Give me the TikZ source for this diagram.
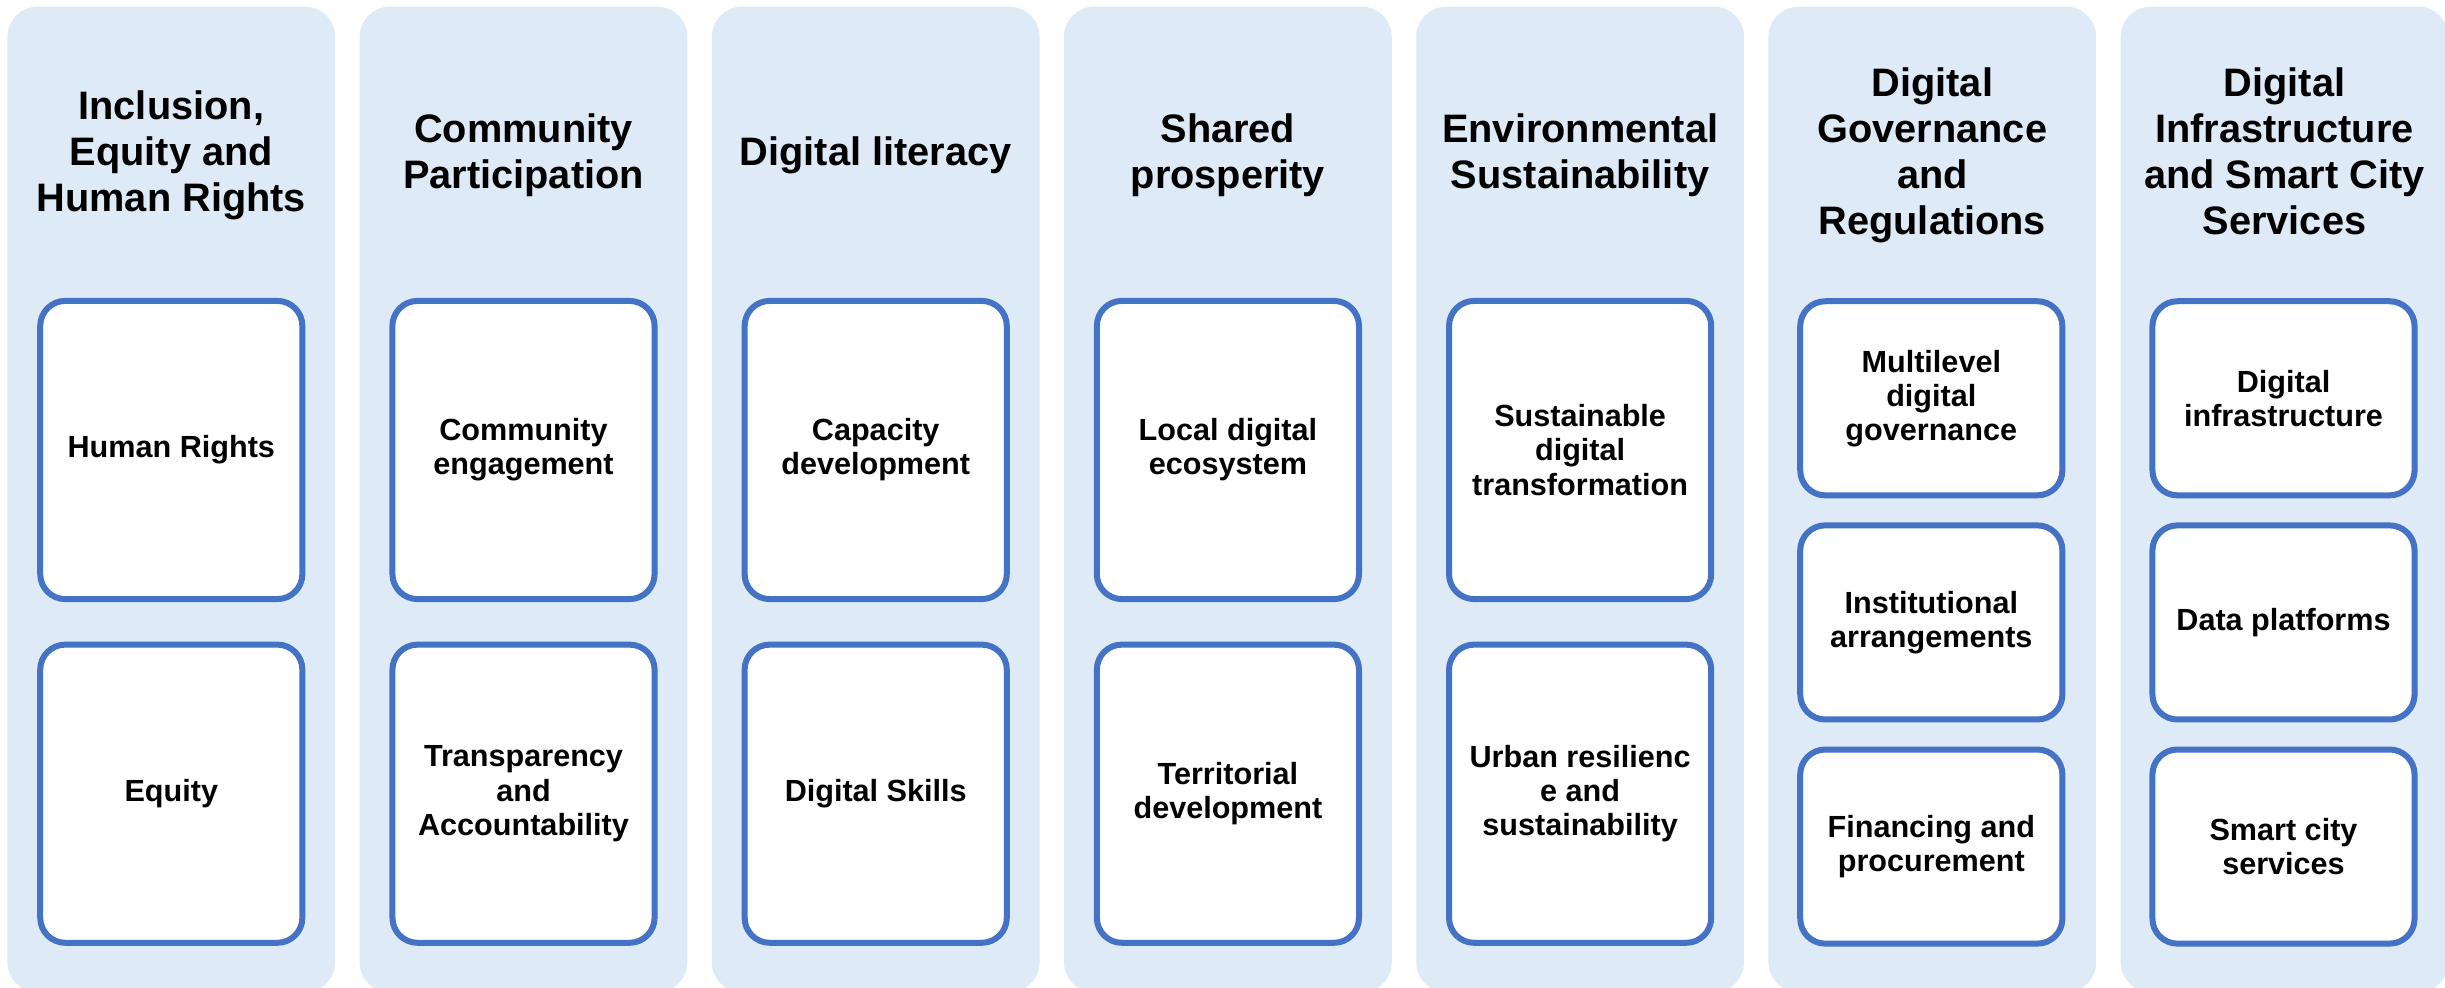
\documentclass[tikz,border=0pt]{standalone}
\usepackage{fontspec}
\setmainfont{Liberation Sans}
\usetikzlibrary{positioning}
\definecolor{lanebg}{HTML}{DEEAF6}
\definecolor{cardline}{HTML}{4472C4}

\begin{document}
\begin{tikzpicture} [x=0.01cm, y=-0.01cm, node distance=3.52cm,
                    lane/.style={rectangle,fill=lanebg,rounded corners=0.3cm,minimum width=3.275cm,minimum height=9.85cm},
                    head/.style={align=center,text depth=0.22em,font=\fontsize{11.3}{13.1}\selectfont\bfseries},
                    card/.style={rectangle,draw=cardline,fill=white,line width=0.6mm,rounded corners=0.25cm,
                                 minimum width=2.62cm,minimum height=2.98cm,align=center,font=\fontsize{8.7}{9.7}\selectfont\bfseries},
                    smallcard/.style={card,minimum height=1.94cm}]

\useasboundingbox (0,0) rectangle (2445,988);

% lanes
\node[lane] (C1) at (171.3,499.5) {};
\node[lane] (C2) [right of=C1] {};
\node[lane] (C3) [right of=C2] {};
\node[lane] (C4) [right of=C3] {};
\node[lane] (C5) [right of=C4] {};
\node[lane] (C6) [right of=C5] {};
\node[lane] (C7) [right of=C6] {};

% headings
\node[head] (T1) at (171.3,155) {Inclusion,\\Equity and\\Human Rights};
\node[head] (T2) [right of=T1] {Community\\Participation};
\node[head] (T3) [right of=T2] {Digital literacy};
\node[head] (T4) [right of=T3] {Shared\\prosperity};
\node[head] (T5) [right of=T4] {Environmental\\Sustainability};
\node[head] (T6) [right of=T5] {Digital\\Governance\\and\\Regulations};
\node[head] (T7) [right of=T6] {Digital\\Infrastructure\\and Smart City\\Services};

% cards
\node[card] (B11) at (171.3,450) {Human Rights};
\node[card] (B12) [below of=B11, node distance=3.435cm] {Equity};
\node[card] (B21) [right of=B11] {Community\\engagement};
\node[card] (B22) [below of=B21, node distance=3.435cm] {Transparency\\and\\Accountability};
\node[card] (B31) [right of=B21] {Capacity\\development};
\node[card] (B32) [below of=B31, node distance=3.435cm] {Digital Skills};
\node[card] (B41) [right of=B31] {Local digital\\ecosystem};
\node[card] (B42) [below of=B41, node distance=3.435cm] {Territorial\\development};
\node[card] (B51) [right of=B41] {Sustainable\\digital\\transformation};
\node[card] (B52) [below of=B51, node distance=3.435cm] {Urban resilienc\\e and\\sustainability};

\node[smallcard] (B61) at (1931.3,398.3) {Multilevel\\digital\\governance};
\node[smallcard] (B62) [below of=B61, node distance=2.24cm] {Institutional\\arrangements};
\node[smallcard] (B63) [below of=B62, node distance=2.24cm] {Financing and\\procurement};
\node[smallcard] (B71) [right of=B61] {Digital\\infrastructure};
\node[smallcard] (B72) [below of=B71, node distance=2.24cm] {Data platforms};
\node[smallcard] (B73) [below of=B72, node distance=2.24cm] {Smart city\\services};
\end{tikzpicture}
\end{document}
